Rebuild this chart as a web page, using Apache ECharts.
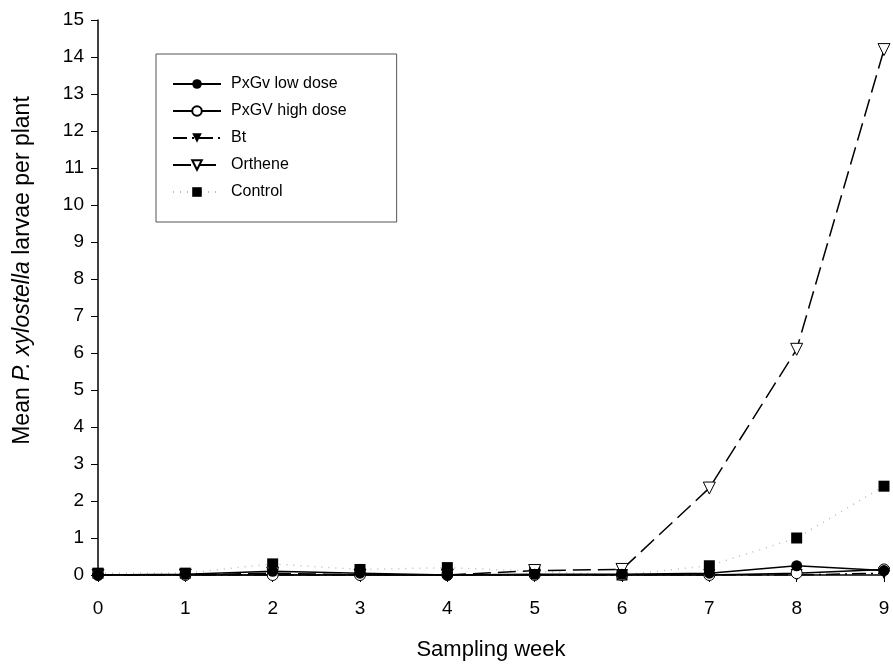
<!DOCTYPE html>
<html>
<head>
<meta charset="utf-8">
<script src="https://cdn.jsdelivr.net/npm/echarts@6/dist/echarts.min.js"></script>
<style>
  html, body { margin: 0; padding: 0; background: #fff; }
  #main { width: 893px; height: 666px; }
</style>
</head>
<body>
<div id="main"></div>
<script>
// sampling weeks
var weeks = [0, 1, 2, 3, 4, 5, 6, 7, 8, 9];

var pxgvLow  = [0, 0.02, 0.1, 0.05, 0, 0.02, 0.02, 0.05, 0.25, 0.12];
var pxgvHigh = [0, 0, 0, 0, 0, 0, 0, 0, 0.05, 0.15];
var bt       = [0, 0, 0, 0, 0, 0, 0, 0, 0, 0.05];
var orthene  = [0, 0, 0.05, 0, 0, 0.12, 0.15, 2.35, 6.1, 14.2];
var control  = [0.05, 0.05, 0.3, 0.15, 0.2, 0.1, 0, 0.25, 1.0, 2.4];

function pairs(vals) {
  return weeks.map(function (w, i) { return [w, vals[i]]; });
}

var chart = echarts.init(document.getElementById('main'));

var font = 'Liberation Sans, Arial, sans-serif';

var option = {
  animation: false,
  textStyle: { fontFamily: font },
  grid: {
    left: 98,
    right: 9,
    top: 20,
    bottom: 91,
    containLabel: false,
    outerBoundsMode: 'none'
  },
  legend: {
    orient: 'vertical',
    left: 156,
    top: 54,
    itemWidth: 48,
    itemHeight: 12,
    itemGap: 11,
    padding: [22, 50, 22, 16],
    borderColor: '#555',
    borderWidth: 1,
    backgroundColor: '#fff',
    textStyle: { fontSize: 16, color: '#000', fontFamily: font, padding: [0, 0, 0, 5] },
    data: ['PxGv low dose', 'PxGV high dose', 'Bt', 'Orthene', 'Control']
  },
  xAxis: {
    type: 'value',
    min: 0,
    max: 9,
    interval: 1,
    name: 'Sampling week',
    nameLocation: 'middle',
    nameGap: 64,
    nameTextStyle: { fontSize: 22, color: '#000', fontFamily: font },
    axisLine: { lineStyle: { color: '#000', width: 1.5 } },
    axisTick: { show: true, length: 7, lineStyle: { color: '#000' } },
    axisLabel: { fontSize: 19, color: '#000', margin: 24 },
    splitLine: { show: false }
  },
  yAxis: {
    type: 'value',
    min: 0,
    max: 15,
    interval: 1,
    name: 'Mean {i|P. xylostella} larvae per plant',
    nameLocation: 'middle',
    nameRotate: 90,
    nameGap: 64,
    nameTextStyle: {
      fontSize: 23,
      color: '#000',
      fontFamily: font,
      padding: [0, 0, 0, 54],
      rich: {
        i: { fontSize: 23, fontStyle: 'italic', color: '#000', fontFamily: font }
      }
    },
    axisLine: { show: true, lineStyle: { color: '#000', width: 1.5 } },
    axisTick: { show: true, length: 7, lineStyle: { color: '#000' } },
    axisLabel: { fontSize: 19, color: '#000', margin: 14 },
    splitLine: { show: false }
  },
  series: [
    {
      name: 'Control',
      type: 'line',
      data: pairs(control),
      symbol: 'rect',
      symbolSize: 11,
      itemStyle: { color: '#000' },
      lineStyle: { color: '#bbb', width: 1.5, type: [1, 6] },
      z: 2
    },
    {
      name: 'Orthene',
      type: 'line',
      data: pairs(orthene),
      symbol: 'triangle',
      symbolRotate: 180,
      symbolSize: 12,
      itemStyle: { color: '#fff', borderColor: '#000', borderWidth: 1 },
      lineStyle: { color: '#000', width: 1.5, type: [18, 7] },
      z: 3
    },
    {
      name: 'Bt',
      type: 'line',
      data: pairs(bt),
      symbol: 'triangle',
      symbolRotate: 180,
      symbolSize: 12,
      itemStyle: { color: '#000' },
      lineStyle: { color: '#000', width: 1.5, type: [14, 5, 2, 5] },
      z: 4
    },
    {
      name: 'PxGV high dose',
      type: 'line',
      data: pairs(pxgvHigh),
      symbol: 'circle',
      symbolSize: 11,
      itemStyle: { color: '#fff', borderColor: '#000', borderWidth: 1 },
      lineStyle: { color: '#000', width: 1.5 },
      z: 5
    },
    {
      name: 'PxGv low dose',
      type: 'line',
      data: pairs(pxgvLow),
      symbol: 'circle',
      symbolSize: 11,
      itemStyle: { color: '#000' },
      lineStyle: { color: '#000', width: 1.5 },
      z: 6
    }
  ]
};

chart.setOption(option);
</script>
</body>
</html>
